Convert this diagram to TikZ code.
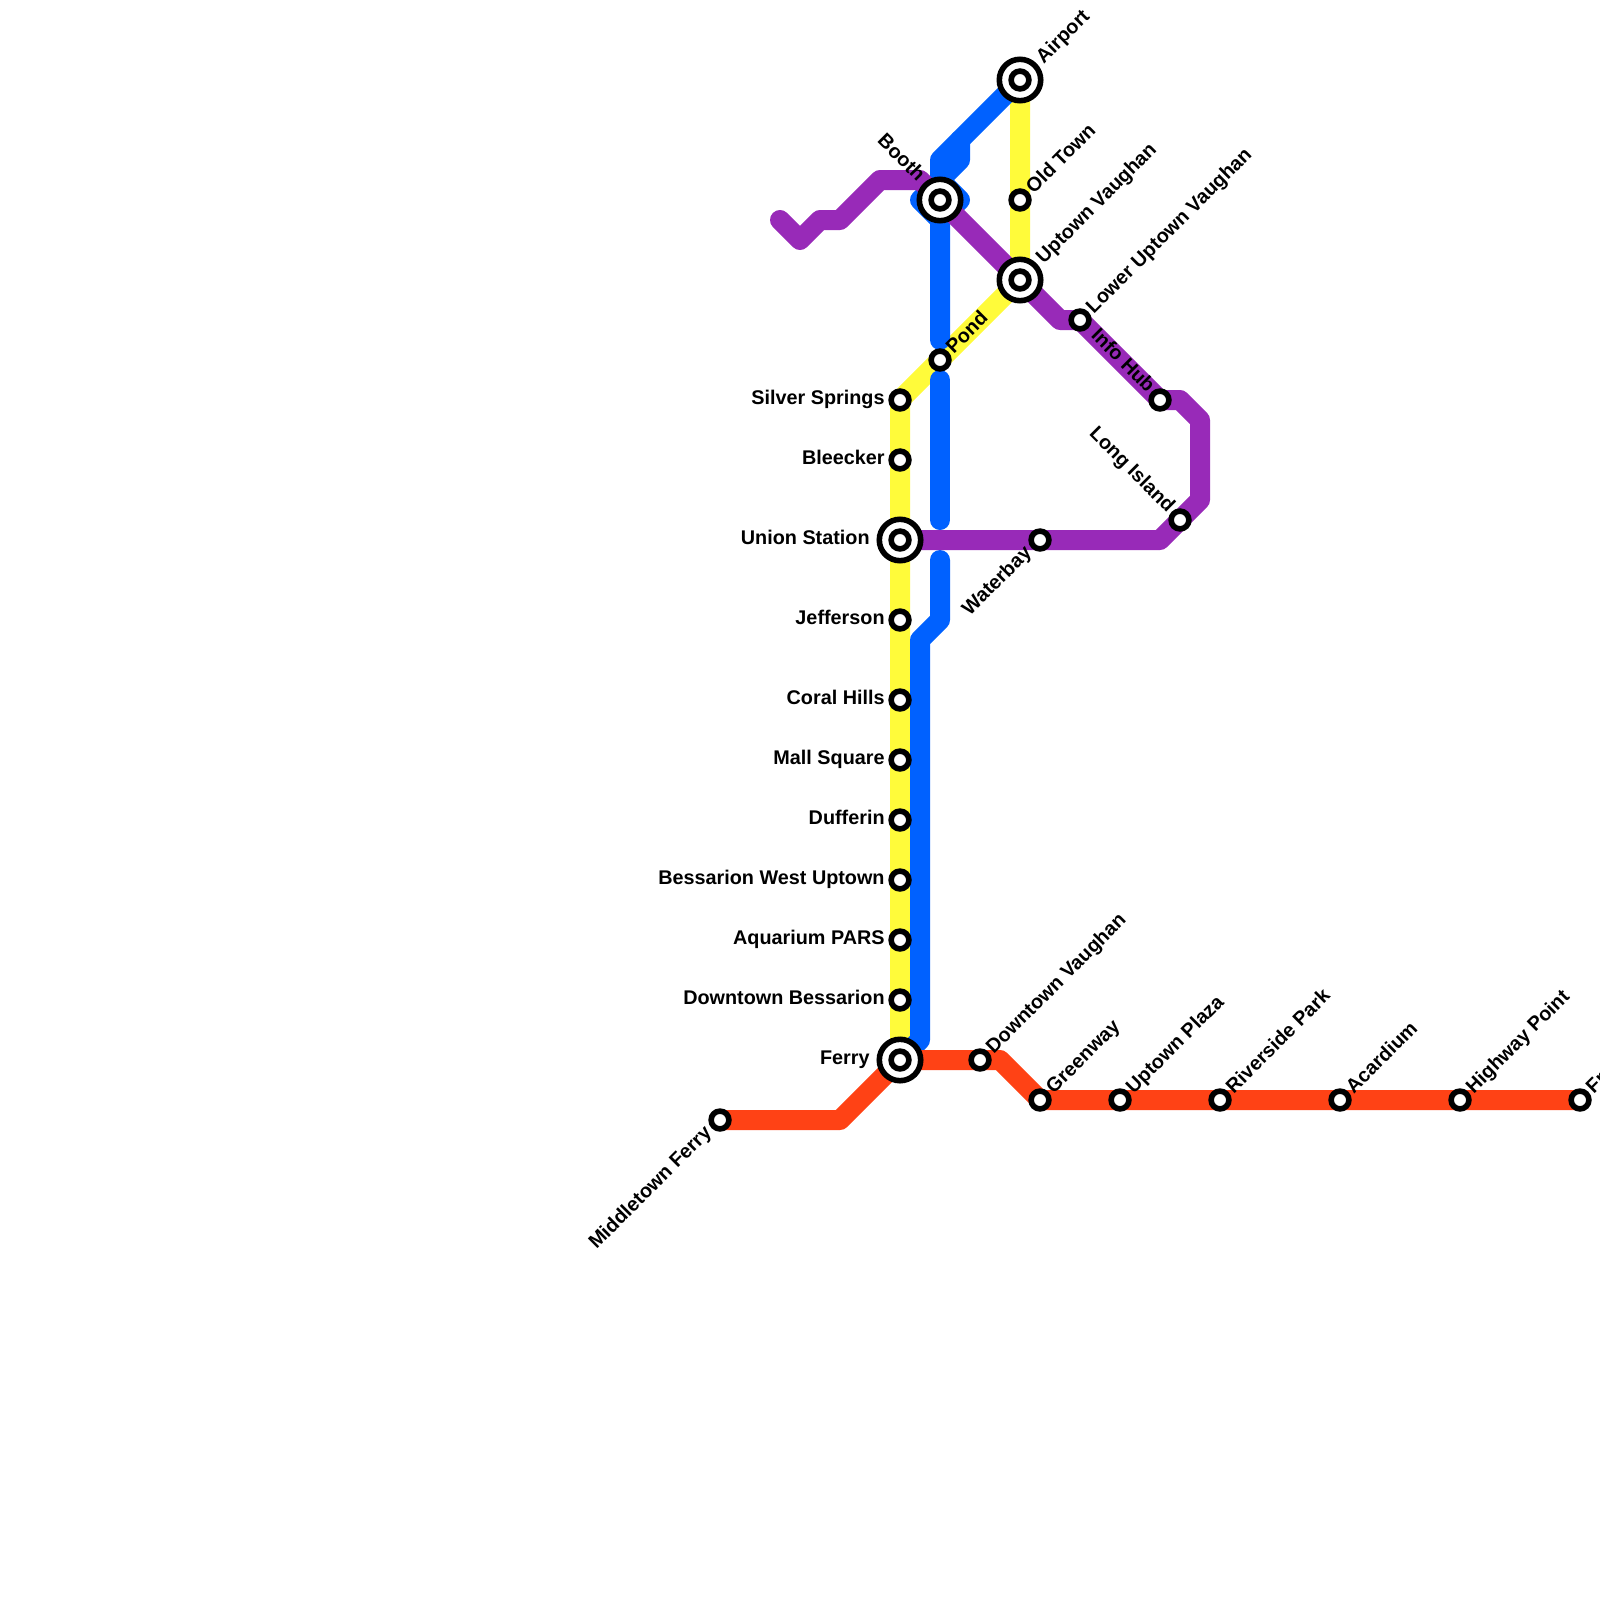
\documentclass[tikz,border=0pt]{standalone}
\usepackage{fontspec}
\setmainfont{Liberation Sans}
\definecolor{ylw}{HTML}{FFFB3A}
\definecolor{blu}{HTML}{0061FF}
\definecolor{pur}{HTML}{982AB8}
\definecolor{red1}{HTML}{FF4215}
\tikzset{
 x=0.5pt,y=-0.5pt,
 metro/.style={line width=10pt,line cap=round,line join=round},
 smallst/.style={circle,draw=black,fill=white,line width=2.8pt,minimum size=8.9pt,inner sep=0pt},
 bigst/.style={circle,draw=black,fill=white,line width=2.8pt,minimum size=20.7pt,inner sep=0pt},
 lbl/.style={font=\bfseries\fontsize{9.9}{11}\selectfont,inner sep=0pt,text=black,text height=7.2pt,text depth=2pt},
 lW/.style={lbl,anchor=east},
 lNE/.style={lbl,anchor=west,rotate=45},
 lSW/.style={lbl,anchor=east,rotate=45},
 lNW/.style={lbl,anchor=east,rotate=-45},
}
\begin{document}
\begin{tikzpicture}
\useasboundingbox (0,0) rectangle (1600,1600);
\clip (0,0) rectangle (1600,1600);
% stations
\foreach \n/\x/\y in {airport/1020/80,oldtown/1020/200,uptownv/1020/280,booth/940/200,pond/940/360,silver/900/400,bleecker/900/460,union/900/540,jefferson/900/620,coral/900/700,mall/900/760,dufferin/900/820,bessw/900/880,aquarium/900/940,downb/900/1000,ferry/900/1060,middle/720/1120,downv/980/1060,greenway/1040/1100,uplaza/1120/1100,river/1220/1100,acardium/1340/1100,highway/1460/1100,fr/1580/1100,lowerup/1080/320,infohub/1160/400,longisl/1180/520,waterbay/1040/540,
 p1/780/220,p2/800/240,p3/820/220,p4/840/220,p5/880/180,p6/920/180,p7/1060/320,p8/1180/400,p9/1200/420,p10/1200/500,p11/1160/540,
 b1/940/160,b2/960/140,b3/960/160,b4/940/180,b5/920/200,b6/940/220,b7/960/200,b8/940/340,b9/940/380,b10/940/520,b11/940/560,b12/940/620,b13/920/640,b14/920/1040,
 r1/840/1120,r2/1000/1060}
 {\coordinate (\n) at (\x,\y);}
% lines
\draw[metro,ylw] (airport) -- (uptownv) -- (silver) -- (ferry);
\draw[metro,blu] (airport) -- (b1) -- (booth) -- (b8);
\draw[metro,blu] (b2) -- (b3) -- (b4);
\draw[metro,blu] (b4) -- (b5) -- (b6) -- (b7) -- cycle;
\draw[metro,blu] (b9) -- (b10);
\draw[metro,blu] (b11) -- (b12) -- (b13) -- (b14) -- (ferry);
\draw[metro,red1] (middle) -- (r1) -- (ferry) -- (r2) -- (greenway) -- (fr);
\draw[metro,pur] (p1) -- (p2) -- (p3) -- (p4) -- (p5) -- (p6) -- (booth) -- (uptownv) -- (p7) -- (lowerup) -- (infohub) -- (p8) -- (p9) -- (p10) -- (p11) -- (union);
% interchange stations
\foreach \n in {airport,uptownv,booth,union,ferry}
 {\node[bigst] (big-\n) at (\n) {};}
\foreach \n in {airport,oldtown,uptownv,booth,pond,silver,bleecker,union,jefferson,coral,mall,dufferin,bessw,aquarium,downb,ferry,middle,downv,greenway,uplaza,river,acardium,highway,fr,lowerup,infohub,longisl,waterbay}
 {\node[smallst] (st-\n) at (\n) {};}
% labels
\foreach \n/\t in {silver/Silver Springs,bleecker/Bleecker,jefferson/Jefferson,coral/Coral Hills,mall/Mall Square,dufferin/Dufferin,bessw/Bessarion West Uptown,aquarium/Aquarium PARS,downb/Downtown Bessarion}
 {\node[lW] (l-\n) at ([shift={(-15,-1)}]\n) {\t};}
\foreach \n/\t in {union/Union Station,ferry/Ferry}
 {\node[lW] (l-\n) at ([shift={(-30,-1)}]\n) {\t};}
\foreach \n/\t in {airport/Airport,uptownv/Uptown Vaughan}
 {\node[lNE] (l-\n) at ([shift={(20,-19)}]\n) {\t};}
\foreach \n/\t in {oldtown/Old Town,pond/Pond,lowerup/Lower Uptown Vaughan,downv/Downtown Vaughan,greenway/Greenway,uplaza/Uptown Plaza,river/Riverside Park,acardium/Acardium,highway/Highway Point,fr/Fr}
 {\node[lNE] (l-\n) at ([shift={(10,-9)}]\n) {\t};}
\foreach \n/\t in {waterbay/Waterbay,middle/Middletown Ferry}
 {\node[lSW] (l-\n) at ([shift={(-11,10)}]\n) {\t};}
\foreach \n/\t in {infohub/Info Hub,longisl/Long Island}
 {\node[lNW] (l-\n) at ([shift={(-9,-10)}]\n) {\t};}
\node[lNW] (l-booth) at ([shift={(-19,-21)}]booth) {Booth};
\end{tikzpicture}
\end{document}
